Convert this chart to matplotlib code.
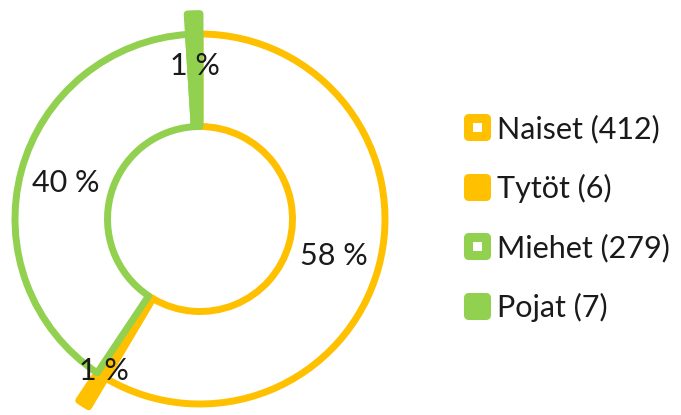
import numpy as np
import matplotlib.pyplot as plt
from matplotlib.lines import Line2D
from matplotlib.markers import MarkerStyle

plt.rcParams['font.family'] = ['Lato', 'DejaVu Sans']

# data
names = ['Naiset', 'Tytöt', 'Miehet', 'Pojat']
counts = [412, 6, 279, 7]
pct_labels = ['58 %', '1 %', '40 %', '1 %']

# styles
orange = '#FFC000'
green = '#92D050'
c_txt = '#1a1a1a'
colors = [orange, orange, green, green]
filled = [False, True, False, True]
outer_r = [1.0, 1.18, 1.0, 1.11]
label_r = [0.75, 0.97, 0.75, 0.83]
inner_r = 0.5
fs = 22

W, H = 681, 415
cx, cy, R = 200, 196, 185   # donut centre / radius in pixels
lim = 1.25
side = 2 * lim * R

fig = plt.figure(figsize=(W / 100, H / 100), dpi=100)
ax = fig.add_axes([(cx - side / 2) / W, (cy - side / 2) / H, side / W, side / H])

wedges, _ = ax.pie(counts, startangle=90, counterclock=False, radius=1,
                   wedgeprops=dict(width=1 - inner_r))

for w, col, f, r, lr, txt in zip(wedges, colors, filled, outer_r, label_r, pct_labels):
    w.set_radius(r)
    w.set_width(r - inner_r)
    w.set_facecolor(col if f else 'white')
    w.set_edgecolor(col)
    w.set_linewidth(5)
    w.set_joinstyle('round')
    a = np.deg2rad((w.theta1 + w.theta2) / 2)
    ax.text(lr * np.cos(a), lr * np.sin(a), txt, ha='center', va='center',
            fontsize=fs, color=c_txt)

ax.set_xlim(-lim, lim)
ax.set_ylim(-lim, lim)
ax.set_aspect('equal')
ax.axis('off')

# legenda
handles = []
for n, c, col, f in zip(names, counts, colors, filled):
    m = MarkerStyle('s', joinstyle='round')
    handles.append(Line2D([0], [0], ls='none', marker=m, markersize=12.5,
                          markeredgewidth=6.5, markeredgecolor=col,
                          markerfacecolor=col if f else 'white',
                          label=f'{n} ({c})'))
fig.legend(handles=handles, loc='center left', frameon=False,
           bbox_to_anchor=(462 / W, 1 - 218 / H), fontsize=fs,
           handlelength=1.0, handletextpad=0.15, labelspacing=1.0,
           borderpad=0, borderaxespad=0, labelcolor=c_txt)

fig.savefig('out.png', dpi=100)
